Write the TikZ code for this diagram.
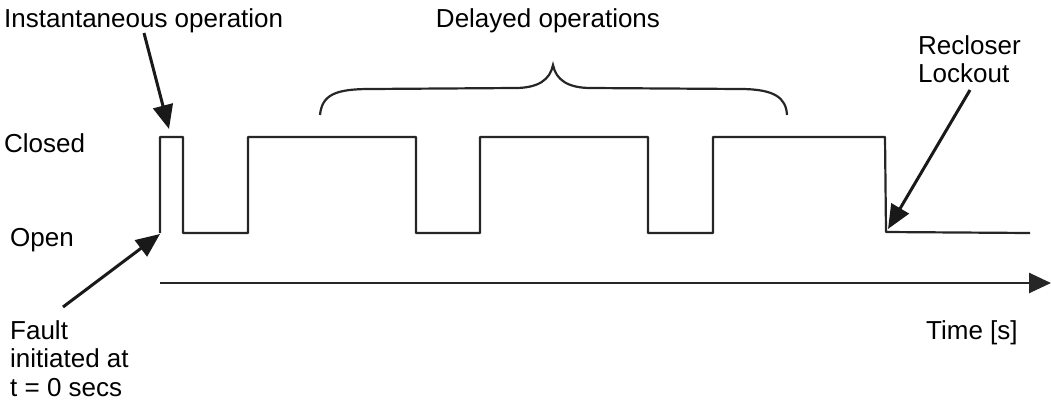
\documentclass[tikz,border=0pt]{standalone}
\usepackage{fontspec}
\setmainfont{Liberation Sans}
\usetikzlibrary{arrows.meta}
\begin{document}
\begin{tikzpicture}[x=1pt,y=-1pt,
  lbl/.style={inner sep=0pt,font=\fontsize{26}{28.5}\selectfont,text=black},
  wave/.style={line width=2.2pt,line join=round,draw=black!85},
  pointer/.style={line width=3pt,draw=black!90,-{Triangle[length=24pt,width=20pt]}},
  axis/.style={line width=2.6pt,draw=black!85,-{Triangle[length=22pt,width=20pt]}}]
\useasboundingbox (0,0) rectangle (1051,405);
% texts
\node[lbl,anchor=west] (inst) at (4,21) {Instantaneous operation};
\node[lbl] (delayed) at (548,21) {Delayed operations};
\node[lbl,anchor=west] (closed) at (4,143) {Closed};
\node[lbl,anchor=west] (open) at (10,240) {Open};
\node[lbl,anchor=north west,align=left] (fault) at (10,320) {Fault\\initiated at\\t = 0 secs};
\node[lbl,anchor=north west,align=left] (recl) at (918,35) {Recloser\\Lockout};
\node[lbl,anchor=west] (time) at (926,333) {Time [s]};
% waveform
\coordinate (w0) at (160,233);
\coordinate (w1) at (885,137);
\coordinate (lk) at (886,232);
\draw[wave] (w0) -- (160,137) -- (183,137) -- (183,233) -- (248,233) -- (248,137)
  -- (416,137) -- (416,233) -- (480,233) -- (480,137) -- (648,137) -- (648,233)
  -- (713,233) -- (713,137) -- (w1) -- (lk) -- (1030,233);
% time axis
\coordinate (ax0) at (160,283);
\coordinate (ax1) at (1051,283);
\draw[axis] (ax0) -- (ax1);
% pointers
\coordinate (instTail) at (144,33);
\coordinate (instTip) at (169,129);
\draw[pointer] (instTail) -- (instTip);
\coordinate (faultTail) at (63,307);
\coordinate (faultTip) at (160,234);
\draw[pointer] (faultTail) -- (faultTip);
\coordinate (reclTail) at (970,90);
\coordinate (reclTip) at (888,229);
\draw[pointer] (reclTail) -- (reclTip);
% brace
\coordinate (bl) at (320,115);
\coordinate (bm) at (553,65);
\coordinate (br) at (787,115);
\draw[line width=2.2pt,draw=black!85] (bl) .. controls (322,95) and (335,89) .. (370,89)
  -- (515,88) .. controls (538,88) and (550,80) .. (bm)
  .. controls (556,80) and (568,88) .. (591,88)
  -- (740,89) .. controls (775,89) and (786,98) .. (br);
\end{tikzpicture}
\end{document}
